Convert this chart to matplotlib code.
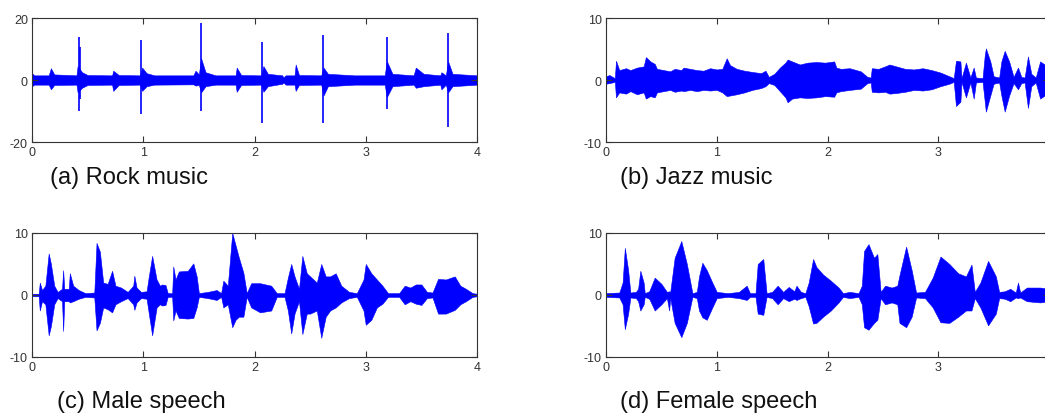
import numpy as np
import matplotlib
matplotlib.use('Agg')
import matplotlib.pyplot as plt

# envelope points: time (s), upper, lower
rock_t = [0.00, 0.02, 0.15, 0.17, 0.20, 0.40, 0.41, 0.45, 0.50, 0.72, 0.73, 0.78, 0.97, 0.99, 1.03,
          1.10, 1.45, 1.47, 1.50, 1.52, 1.56, 1.65, 1.83, 1.84, 1.88, 2.06, 2.08, 2.12, 2.25, 2.26,
          2.28, 2.36, 2.37, 2.40, 2.60, 2.62, 2.66, 2.90, 3.17, 3.19, 3.24, 3.43, 3.45, 3.52, 3.67,
          3.68, 3.72, 3.74, 3.78, 4.00]
rock_hi = [2.2, 1.5, 1.5, 3.8, 1.8, 1.5, 4.5, 2.5, 1.6, 1.5, 3.0, 1.6, 1.5, 4.0, 2.2,
           1.5, 1.5, 3.0, 1.8, 7.0, 2.5, 1.5, 1.5, 4.0, 1.6, 1.5, 4.5, 2.0, 1.5, 0.8,
           1.5, 1.5, 5.0, 1.6, 1.5, 4.0, 2.0, 1.5, 1.5, 6.0, 2.0, 1.5, 4.0, 2.0, 1.5,
           2.5, 1.5, 6.0, 2.0, 1.5]
rock_lo = [-2.0, -1.5, -1.5, -3.0, -1.6, -1.5, -4.0, -2.5, -1.6, -1.5, -3.5, -1.6, -1.5, -3.5, -2.0,
           -1.5, -1.4, -1.8, -1.6, -4.0, -2.0, -1.5, -1.5, -3.8, -1.6, -1.5, -3.8, -2.0, -1.2, -0.8,
           -1.5, -1.5, -3.5, -1.6, -1.5, -5.0, -2.0, -1.5, -1.5, -5.5, -2.0, -1.5, -2.5, -2.0, -1.5,
           -3.0, -1.5, -4.0, -2.0, -1.5]
rock_spike_t = [0.42, 0.43, 0.98, 1.52, 2.07, 2.62, 3.19, 3.74]
rock_spike_hi = [14.0, 10.5, 13.0, 18.5, 12.3, 14.5, 14.0, 15.3]
rock_spike_lo = [-10.0, -6.0, -11.0, -10.0, -14.0, -13.8, -9.3, -15.0]

jazz_t = [0.00, 0.03, 0.08, 0.09, 0.12, 0.18, 0.22, 0.28, 0.34, 0.36, 0.40, 0.44, 0.46, 0.52, 0.58,
          0.62, 0.68, 0.70, 0.76, 0.82, 0.88, 0.94, 1.00, 1.05, 1.09, 1.12, 1.18, 1.25, 1.32, 1.40,
          1.44, 1.47, 1.52, 1.57, 1.62, 1.64, 1.68, 1.75, 1.82, 1.90, 1.98, 2.06, 2.08, 2.12, 2.20,
          2.30, 2.36, 2.39, 2.40, 2.46, 2.52, 2.56, 2.62, 2.70, 2.78, 2.86, 2.94, 3.02, 3.10, 3.14,
          3.16, 3.20, 3.21, 3.25, 3.29, 3.32, 3.34, 3.40, 3.42, 3.43, 3.47, 3.50, 3.55, 3.57, 3.60,
          3.64, 3.68, 3.72, 3.75, 3.78, 3.81, 3.84, 3.88, 3.92, 4.00]
jazz_hi = [0.6, 0.8, 0.3, 3.1, 1.6, 1.9, 1.6, 2.0, 2.2, 3.7, 3.0, 2.6, 1.8, 1.6, 1.4,
           1.8, 1.6, 2.0, 1.8, 1.6, 1.5, 1.9, 1.7, 1.8, 3.5, 2.4, 1.8, 1.5, 1.3, 1.1,
           1.5, 0.5, 1.0, 2.0, 2.8, 3.3, 3.0, 2.5, 2.8, 2.9, 2.8, 3.0, 2.0, 1.8, 1.9,
           1.4, 0.5, 0.4, 1.9, 1.8, 2.2, 2.5, 2.2, 1.8, 1.7, 1.9, 1.6, 1.2, 0.6, 0.3,
           3.1, 3.0, 0.3, 2.8, 0.4, 2.0, 0.4, 0.3, 4.0, 5.1, 3.0, 0.6, 0.4, 3.0, 4.7,
           3.0, 0.5, 2.0, 0.5, 0.4, 3.8, 1.0, 0.4, 3.0, 2.0]
jazz_lo = [-0.6, -0.5, -0.3, -2.8, -2.0, -2.2, -1.8, -2.3, -2.0, -3.0, -2.6, -2.8, -2.0, -1.8, -1.6,
           -1.9, -1.7, -1.8, -1.6, -1.8, -1.6, -1.7, -1.6, -2.0, -2.6, -2.5, -2.3, -2.0, -1.6, -1.3,
           -1.0, -0.5, -0.8, -1.8, -2.8, -3.6, -3.0, -2.8, -2.9, -2.8, -2.6, -2.7, -2.0, -1.8, -1.6,
           -1.4, -0.5, -0.4, -1.9, -2.0, -1.9, -2.2, -2.1, -1.9, -1.6, -1.7, -1.5, -1.0, -0.6, -0.3,
           -4.2, -3.5, -0.3, -2.8, -0.4, -3.0, -0.4, -0.3, -3.5, -5.1, -2.5, -0.6, -0.4, -2.5, -5.1,
           -2.5, -0.5, -1.5, -0.5, -0.4, -4.5, -1.0, -0.4, -3.0, -2.0]

male_t = [0.00, 0.06, 0.07, 0.09, 0.12, 0.15, 0.17, 0.20, 0.23, 0.27, 0.28, 0.29, 0.33, 0.34, 0.37,
          0.42, 0.48, 0.56, 0.58, 0.61, 0.64, 0.68, 0.72, 0.75, 0.80, 0.86, 0.91, 0.92, 0.94, 0.98,
          1.03, 1.05, 1.08, 1.12, 1.15, 1.17, 1.20, 1.22, 1.26, 1.27, 1.29, 1.32, 1.40, 1.45, 1.48,
          1.50, 1.58, 1.66, 1.70, 1.72, 1.76, 1.80, 1.83, 1.86, 1.90, 1.93, 1.97, 2.05, 2.15, 2.20,
          2.27, 2.30, 2.33, 2.36, 2.40, 2.43, 2.47, 2.50, 2.56, 2.60, 2.64, 2.68, 2.73, 2.78, 2.85,
          2.92, 2.98, 3.00, 3.05, 3.10, 3.15, 3.20, 3.30, 3.35, 3.40, 3.45, 3.50, 3.55, 3.60, 3.65,
          3.72, 3.80, 3.85, 3.90, 3.96, 4.00]
male_hi = [0.2, 0.2, 2.0, 0.8, 1.5, 6.7, 5.0, 1.5, 0.5, 1.0, 4.0, 1.0, 1.0, 3.5, 1.5,
           0.8, 0.3, 0.4, 8.4, 7.0, 2.0, 1.8, 3.9, 1.5, 1.2, 0.5, 1.5, 3.1, 1.2, 0.5,
           0.6, 3.0, 6.3, 2.5, 1.5, 1.7, 1.6, 0.3, 0.3, 4.6, 2.5, 3.8, 3.9, 5.1, 3.0,
           0.3, 0.5, 0.8, 0.3, 2.3, 1.5, 10.0, 8.0, 6.0, 3.6, 0.3, 1.9, 1.9, 1.5, 0.3,
           0.3, 2.8, 5.0, 3.0, 1.0, 6.3, 3.5, 3.0, 2.0, 5.0, 3.0, 3.0, 3.5, 1.5, 0.5,
           0.3, 2.5, 5.0, 3.5, 2.5, 1.5, 0.3, 0.3, 1.5, 1.2, 1.7, 1.7, 0.5, 0.4, 2.6,
           2.5, 3.0, 1.5, 1.0, 0.3, 0.2]
male_lo = [-0.2, -0.2, -2.5, -1.0, -1.5, -6.5, -5.0, -1.5, -0.5, -1.0, -5.8, -1.0, -1.0, -1.2, -1.0,
           -0.6, -0.3, -0.4, -5.7, -4.5, -2.0, -2.3, -2.8, -1.5, -1.0, -0.5, -1.5, -2.4, -1.2, -0.5,
           -0.6, -3.0, -6.5, -2.0, -1.5, -1.7, -1.6, -0.3, -0.3, -4.1, -2.5, -3.7, -3.8, -3.7, -2.0,
           -0.3, -0.5, -0.8, -0.3, -2.0, -1.5, -5.2, -4.0, -3.5, -3.5, -0.3, -2.0, -2.8, -2.5, -0.3,
           -0.3, -2.5, -6.2, -3.0, -1.0, -6.3, -3.0, -3.0, -2.5, -6.9, -3.5, -2.5, -2.0, -1.2, -0.5,
           -0.3, -2.5, -4.8, -4.0, -2.0, -1.4, -0.3, -0.3, -1.5, -1.0, -1.4, -1.6, -0.5, -0.4, -3.0,
           -3.0, -2.4, -1.5, -1.0, -0.3, -0.2]

female_t = [0.00, 0.12, 0.15, 0.17, 0.20, 0.22, 0.27, 0.29, 0.31, 0.34, 0.35, 0.39, 0.44, 0.50, 0.55,
            0.57, 0.58, 0.62, 0.68, 0.73, 0.78, 0.82, 0.84, 0.87, 0.91, 0.96, 1.00, 1.10, 1.20, 1.27,
            1.30, 1.35, 1.37, 1.42, 1.45, 1.50, 1.55, 1.60, 1.65, 1.70, 1.72, 1.76, 1.80, 1.83, 1.87,
            1.90, 1.96, 2.03, 2.10, 2.14, 2.20, 2.28, 2.31, 2.33, 2.37, 2.42, 2.45, 2.48, 2.52, 2.58,
            2.63, 2.65, 2.71, 2.76, 2.80, 2.88, 2.95, 3.02, 3.10, 3.18, 3.25, 3.30, 3.33, 3.38, 3.45,
            3.52, 3.55, 3.60, 3.65, 3.70, 3.72, 3.74, 3.80, 3.92, 4.00]
female_hi = [0.3, 0.4, 2.0, 7.6, 4.0, 0.4, 0.5, 1.0, 3.9, 2.0, 0.3, 0.6, 2.8, 1.8, 0.5,
             0.6, 0.5, 6.0, 8.7, 5.0, 0.3, 0.5, 3.0, 5.2, 4.0, 2.0, 0.5, 0.3, 0.5, 1.5,
             0.3, 0.3, 5.0, 5.8, 0.3, 0.5, 1.5, 0.5, 1.3, 0.6, 1.5, 0.5, 0.3, 2.0, 5.8,
             4.5, 3.3, 2.3, 1.2, 0.3, 0.5, 0.3, 1.5, 7.1, 8.2, 6.0, 6.6, 0.5, 1.5, 1.2,
             1.5, 3.2, 7.8, 4.0, 0.4, 0.5, 2.8, 6.2, 5.0, 3.5, 3.0, 4.9, 0.5, 2.0, 5.5,
             3.0, 0.5, 0.6, 1.0, 0.4, 2.0, 0.4, 1.2, 1.2, 1.0]
female_lo = [-0.3, -0.4, -1.5, -5.5, -3.0, -0.4, -0.5, -1.0, -2.5, -1.5, -0.3, -0.6, -2.5, -1.5, -0.5,
             -2.5, -0.5, -4.5, -6.8, -4.5, -0.3, -0.5, -2.5, -3.6, -4.0, -2.0, -0.5, -0.3, -0.5, -0.8,
             -0.3, -0.3, -3.0, -3.2, -0.3, -0.5, -1.5, -0.5, -1.0, -0.6, -0.8, -0.5, -0.3, -1.8, -4.6,
             -4.5, -3.5, -2.5, -1.2, -0.3, -0.5, -0.3, -1.5, -5.2, -5.6, -4.5, -4.0, -0.5, -1.5, -1.2,
             -1.5, -4.5, -5.2, -3.5, -0.4, -0.5, -2.0, -4.4, -4.5, -3.5, -2.5, -2.5, -0.5, -2.0, -4.9,
             -3.0, -0.5, -0.6, -1.0, -0.4, -0.5, -0.4, -1.0, -1.2, -1.0]

captions = ['(a) Rock music', '(b) Jazz music', '(c) Male speech', '(d) Female speech']
x_ticks = [0, 1, 2, 3, 4]

W, H = 1045, 414
BLUE = '#0000ff'
GREY = '#333333'


def px(x0, y0, x1, y1):
    # pixel box (top-left origin) -> figure fraction rect
    return [x0 / W, 1 - y1 / H, (x1 - x0) / W, (y1 - y0) / H]


def setup(ax, ylim, yticks, show_last=True):
    ax.set_xlim(0, 4)
    ax.set_ylim(*ylim)
    ax.set_xticks(x_ticks)
    labels = [str(v) for v in x_ticks]
    if not show_last:
        labels[-1] = ''  # falls off the right edge of the page
    ax.set_xticklabels(labels)
    ax.set_yticks(yticks)
    ax.tick_params(direction='in', length=4, width=0.8, colors=GREY, labelsize=9,
                   top=True, right=True, pad=3)
    for s in ax.spines.values():
        s.set_color(GREY)
        s.set_linewidth(0.8)


def wave(ax, t, hi, lo):
    ax.fill_between(t, lo, hi, color=BLUE, linewidth=0.4, edgecolor=BLUE)


plt.rcParams['font.family'] = ['Liberation Sans', 'DejaVu Sans']
plt.rcParams['axes.unicode_minus'] = False
fig = plt.figure(figsize=(W / 100, H / 100), dpi=100)

ax_a = fig.add_axes(px(32, 19, 477, 143))
ax_b = fig.add_axes(px(606, 19, 1049, 143))
ax_c = fig.add_axes(px(32, 234, 477, 358))
ax_d = fig.add_axes(px(606, 234, 1049, 358))

setup(ax_a, (-20, 20), [-20, 0, 20])
wave(ax_a, rock_t, rock_hi, rock_lo)
ax_a.vlines(rock_spike_t, rock_spike_lo, rock_spike_hi, color=BLUE, linewidth=1.2)

setup(ax_b, (-10, 10), [-10, 0, 10], show_last=False)
wave(ax_b, jazz_t, jazz_hi, jazz_lo)

setup(ax_c, (-10, 10), [-10, 0, 10])
wave(ax_c, male_t, male_hi, male_lo)

setup(ax_d, (-10, 10), [-10, 0, 10], show_last=False)
wave(ax_d, female_t, female_hi, female_lo)

for (x, y), txt in zip([(50, 178), (620, 178), (57, 402), (620, 402)], captions):
    fig.text(x / W, 1 - y / H, txt, fontsize=17, va='center', ha='left', color='#111111')

fig.savefig('out.png', dpi=100)
